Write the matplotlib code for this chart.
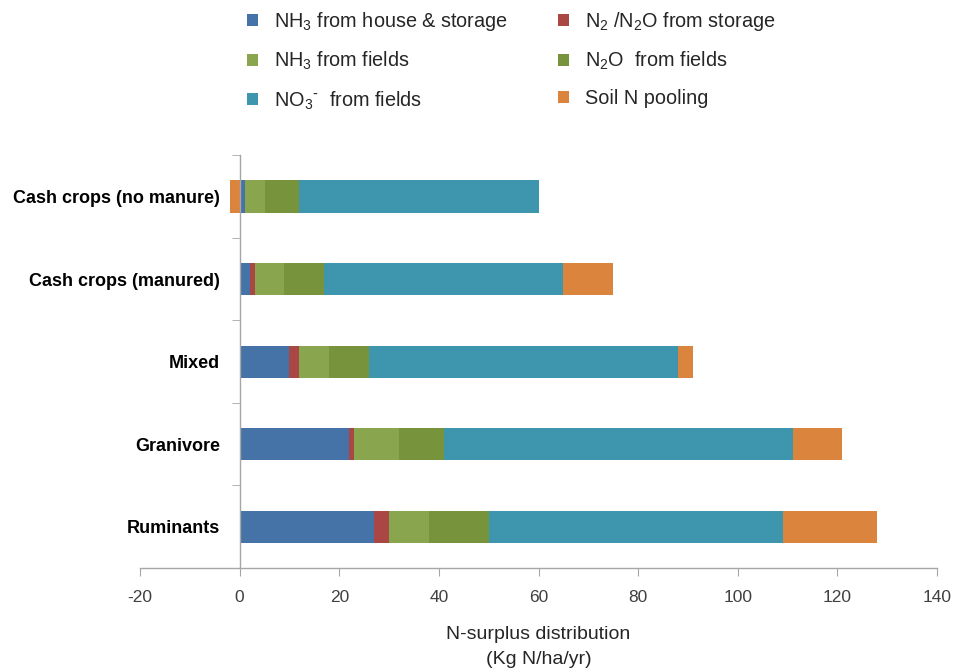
import matplotlib
matplotlib.use("Agg")
import matplotlib.pyplot as plt
from matplotlib.patches import Patch
import numpy as np

plt.rcParams['font.family'] = ['Liberation Sans', 'DejaVu Sans']
plt.rcParams['mathtext.default'] = 'regular'
plt.rcParams['axes.unicode_minus'] = False

# Categories listed top to bottom
categories = ['Cash crops (no manure)', 'Cash crops (manured)', 'Mixed', 'Granivore', 'Ruminants']

series_names = [
    r'NH$_3$ from house & storage',
    r'N$_2$ /N$_2$O from storage',
    r'NH$_3$ from fields',
    r'N$_2$O  from fields',
    r'NO$_3$$^{\text{-}}$  from fields',
    'Soil N pooling',
]
nh3_house = [1, 2, 10, 22, 27]
n2_storage = [0, 1, 2, 1, 3]
nh3_fields = [4, 6, 6, 9, 8]
n2o_fields = [7, 8, 8, 9, 12]
no3_fields = [48, 48, 62, 70, 59]
soil_pool = [-2, 10, 3, 10, 19]

colors = ['#4572A7', '#AA4643', '#89A54E', '#77933C', '#3D96AE', '#DB843D']
values = [nh3_house, n2_storage, nh3_fields, n2o_fields, no3_fields, soil_pool]

fig = plt.figure(figsize=(9.54, 6.72), dpi=100)
ax = fig.add_axes([0.1468, 0.1548, 0.8354, 0.6142])

n = len(categories)
ypos = np.arange(n)[::-1]  # first category on top
pos_left = np.zeros(n)
neg_left = np.zeros(n)
for vals, col in zip(values, colors):
    vals = np.array(vals, dtype=float)
    left = np.where(vals >= 0, pos_left, neg_left)
    ax.barh(ypos, vals, left=left, height=0.39, color=col, edgecolor='none')
    pos_left += np.where(vals >= 0, vals, 0)
    neg_left += np.where(vals < 0, vals, 0)

ax.set_xlim(-20, 140)
ax.set_ylim(-0.5, n - 0.5)
ax.set_xticks(np.arange(-20, 141, 20))

ax.spines['top'].set_visible(False)
ax.spines['right'].set_visible(False)
ax.spines['left'].set_position(('data', 0))
for s in ['left', 'bottom']:
    ax.spines[s].set_color('#A6A6A6')
    ax.spines[s].set_linewidth(1.0)

ax.tick_params(axis='x', direction='out', length=6, color='#A6A6A6',
               labelsize=12.5, labelcolor='#404040', pad=10)

ax.set_yticks(ypos)
ax.set_yticklabels(categories, fontweight='bold', fontsize=13)
ax.tick_params(axis='y', which='major', length=0, pad=14)
ax.set_yticks(np.arange(-0.5, n, 1.0)[1:], minor=True)
ax.tick_params(axis='y', which='minor', direction='out', length=6, color='#A6A6A6')

ax.set_xlabel('N-surplus distribution\n(Kg N/ha/yr)', fontsize=14, color='#262626',
              linespacing=1.65, labelpad=15)

handles = [Patch(facecolor=c, edgecolor='none') for c in colors]
# order so that legend reads row-wise in two columns
order = [0, 2, 4, 1, 3, 5]
fig.legend([handles[i] for i in order], [series_names[i] for i in order],
           loc='upper center', bbox_to_anchor=(0.536, 1.012), ncol=2, frameon=False,
           fontsize=14.3, handlelength=0.55, handleheight=0.55, handletextpad=0.8,
           labelspacing=0.86, columnspacing=2.55, labelcolor='#262626')

fig.savefig('out.png', dpi=100)
